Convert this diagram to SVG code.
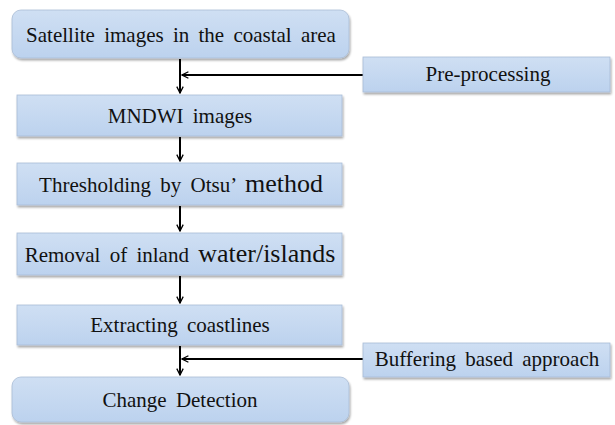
<svg xmlns="http://www.w3.org/2000/svg" width="615" height="425" viewBox="0 0 615 425">
<defs>
<linearGradient id="g" x1="0" y1="0" x2="0" y2="1">
<stop offset="0" stop-color="#cfdff3"/>
<stop offset="1" stop-color="#bcd2ee"/>
</linearGradient>
<filter id="sh" x="-5%" y="-10%" width="110%" height="130%">
<feDropShadow dx="1" dy="2" stdDeviation="1.2" flood-color="#000" flood-opacity="0.35"/>
</filter>
<marker id="ah" viewBox="0 0 10 10" refX="9" refY="5" markerWidth="8" markerHeight="8" markerUnits="userSpaceOnUse" orient="auto">
<path d="M1,1 L9,5 L1,9" fill="none" stroke="#000" stroke-width="1.6"/>
</marker>
</defs>
<style>
.box{fill:url(#g);stroke:#a9bcd6;stroke-width:0.8;filter:url(#sh)}
text{font-family:'Liberation Serif','Times New Roman','DejaVu Serif',serif;font-size:21px;fill:#111;text-anchor:middle;word-spacing:4px}
.big{font-size:26px}
.c{stroke:#000;stroke-width:2;fill:none}
</style>
<g id="connectors">
<line class="c" x1="180" y1="59" x2="180" y2="93" marker-end="url(#ah)"/>
<line class="c" x1="363" y1="75" x2="182" y2="75" marker-end="url(#ah)" stroke-width="1.6"/>
<line class="c" x1="180" y1="137" x2="180" y2="161" marker-end="url(#ah)"/>
<line class="c" x1="180" y1="206" x2="180" y2="231" marker-end="url(#ah)"/>
<line class="c" x1="180" y1="276" x2="180" y2="303" marker-end="url(#ah)"/>
<line class="c" x1="180" y1="346" x2="180" y2="375" marker-end="url(#ah)"/>
<line class="c" x1="363" y1="359" x2="182" y2="359" marker-end="url(#ah)" stroke-width="1.6"/>
</g>
<g id="satellite">
<rect class="box" x="12" y="10" width="337" height="48" rx="9"/>
<text x="181" y="42">Satellite images in the coastal area</text>
</g>
<g id="preprocessing">
<rect class="box" x="363" y="57" width="247" height="35"/>
<text x="488" y="81">Pre-processing</text>
</g>
<g id="mndwi">
<rect class="box" x="17" y="95" width="325" height="41"/>
<text x="180" y="123">MNDWI images</text>
</g>
<g id="thresholding">
<rect class="box" x="17" y="163" width="325" height="42"/>
<text x="181" y="192">Thresholding by Otsu’ <tspan class="big">method</tspan></text>
</g>
<g id="removal">
<rect class="box" x="17" y="233" width="325" height="42"/>
<text x="180" y="262">Removal of inland <tspan class="big">water/islands</tspan></text>
</g>
<g id="extracting">
<rect class="box" x="17" y="305" width="325" height="40"/>
<text x="180" y="332">Extracting coastlines</text>
</g>
<g id="buffering">
<rect class="box" x="363" y="343" width="247" height="34"/>
<text x="487" y="366">Buffering based approach</text>
</g>
<g id="change">
<rect class="box" x="12" y="377" width="337" height="45" rx="9"/>
<text x="180" y="407">Change Detection</text>
</g>
</svg>
